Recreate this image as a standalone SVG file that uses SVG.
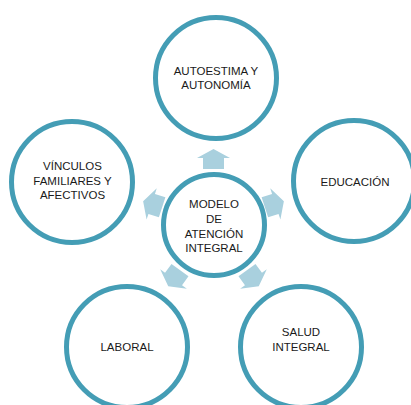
<svg xmlns="http://www.w3.org/2000/svg" width="411" height="405" viewBox="0 0 411 405">
<defs>
<style>
.c{fill:#fff;stroke:#449db5;stroke-width:5}
.t{font-family:"Liberation Sans",Arial,sans-serif;font-size:11.5px;fill:#1a1a1a;text-anchor:middle}
.a{fill:#a9d0de}
</style>
<path id="arr" d="M0,-10 L16.5,-1 L10.5,-1 L10.5,10 L-10.5,10 L-10.5,-1 L-16.5,-1 Z"/>
</defs>
<rect width="411" height="405" fill="#fff"/>
<g id="connectors">
<use href="#arr" class="a" transform="translate(213.5,224) rotate(0) translate(0,-65)"/>
<use href="#arr" class="a" transform="translate(213.5,224) rotate(72) translate(0,-64)"/>
<use href="#arr" class="a" transform="translate(213.5,224) rotate(144) translate(0,-67)"/>
<use href="#arr" class="a" transform="translate(213.5,224) rotate(216) translate(0,-67)"/>
<use href="#arr" class="a" transform="translate(213.5,224) rotate(288) translate(0,-64)"/>
</g>
<g id="center">
<circle class="c" cx="214" cy="225" r="50.5"/>
<text class="t" x="214" y="208">MODELO</text>
<text class="t" x="214" y="222.7">DE</text>
<text class="t" x="214" y="237.5">ATENCIÓN</text>
<text class="t" x="214" y="252.2">INTEGRAL</text>
</g>
<g id="autoestima">
<circle class="c" cx="216" cy="78" r="60.5"/>
<text class="t" x="216" y="75">AUTOESTIMA Y</text>
<text class="t" x="216" y="89">AUTONOMÍA</text>
</g>
<g id="educacion">
<circle class="c" cx="354" cy="181" r="60.5"/>
<text class="t" x="355" y="186">EDUCACIÓN</text>
</g>
<g id="salud">
<circle class="c" cx="301" cy="347" r="60.5"/>
<text class="t" x="301" y="336">SALUD</text>
<text class="t" x="301" y="350.7">INTEGRAL</text>
</g>
<g id="laboral">
<circle class="c" cx="127" cy="347" r="60.5"/>
<text class="t" x="127" y="350.7">LABORAL</text>
</g>
<g id="vinculos">
<circle class="c" cx="72" cy="182" r="60.5"/>
<text class="t" x="72.5" y="170">VÍNCULOS</text>
<text class="t" x="72.5" y="184.5">FAMILIARES Y</text>
<text class="t" x="72.5" y="198.5">AFECTIVOS</text>
</g>
</svg>
